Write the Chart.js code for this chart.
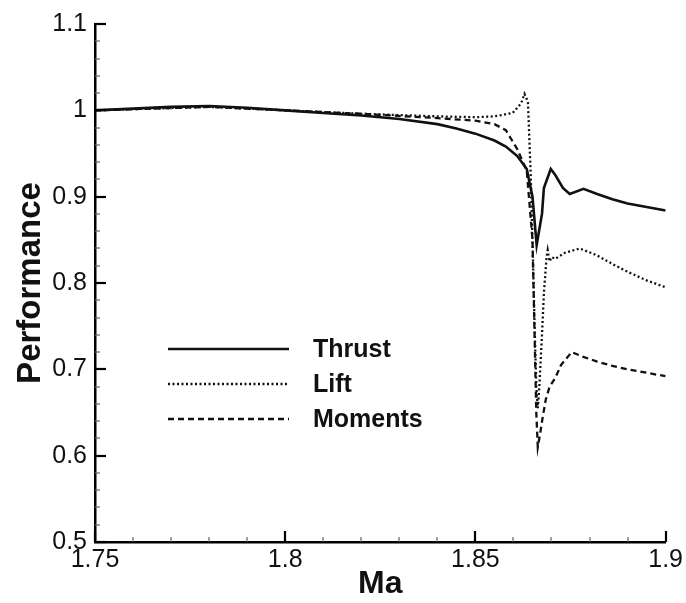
<!DOCTYPE html>
<html>
<head>
<meta charset="utf-8">
<script src="https://cdn.jsdelivr.net/npm/chart.js@4.4.1/dist/chart.umd.min.js"></script>
<style>
  html, body { margin: 0; padding: 0; background: #fff; }
  #wrap { width: 686px; height: 603px; }
</style>
</head>
<body>
<div id="wrap"><canvas id="perfChart" width="686" height="603"></canvas></div>
<script>
// Ma values and series
const thrustMa = [1.75, 1.76, 1.77, 1.78, 1.79, 1.80, 1.81, 1.82, 1.83, 1.84, 1.845, 1.85, 1.855, 1.858, 1.861, 1.8635, 1.865, 1.8661, 1.8675, 1.868, 1.8698, 1.871, 1.873, 1.8748, 1.8784, 1.882, 1.886, 1.89, 1.895, 1.9];
const thrustVal = [1.0, 1.002, 1.004, 1.005, 1.003, 1.0, 0.997, 0.994, 0.99, 0.984, 0.979, 0.973, 0.965, 0.958, 0.947, 0.932, 0.90, 0.844, 0.88, 0.91, 0.932, 0.925, 0.91, 0.903, 0.909, 0.903, 0.897, 0.892, 0.888, 0.884];

const liftMa = [1.75, 1.78, 1.80, 1.82, 1.84, 1.85, 1.855, 1.8598, 1.862, 1.8629, 1.8638, 1.8645, 1.865, 1.8655, 1.866, 1.8664, 1.8668, 1.8675, 1.868, 1.8687, 1.869, 1.8695, 1.870, 1.871, 1.8735, 1.8774, 1.882, 1.886, 1.89, 1.895, 1.9];
const liftVal = [1.0, 1.004, 1.0, 0.996, 0.993, 0.992, 0.993, 0.997, 1.008, 1.019, 1.01, 0.93, 0.85, 0.76, 0.68, 0.655, 0.68, 0.74, 0.788, 0.83, 0.838, 0.825, 0.83, 0.828, 0.835, 0.840, 0.832, 0.822, 0.813, 0.803, 0.795];

const momentsMa = [1.75, 1.78, 1.80, 1.82, 1.84, 1.85, 1.855, 1.858, 1.861, 1.8635, 1.865, 1.8655, 1.866, 1.8664, 1.867, 1.8677, 1.8685, 1.8695, 1.871, 1.8725, 1.8753, 1.878, 1.882, 1.886, 1.89, 1.895, 1.9];
const momentsVal = [1.0, 1.004, 1.0, 0.996, 0.991, 0.988, 0.984, 0.977, 0.955, 0.93, 0.85, 0.75, 0.65, 0.61, 0.625, 0.645, 0.665, 0.68, 0.69, 0.705, 0.72, 0.715, 0.709, 0.704, 0.700, 0.696, 0.692];

const seriesNames = ['Thrust', 'Lift', 'Moments'];
const xTickValues = [1.75, 1.8, 1.85, 1.9];
const xTickLabels = ['1.75', '1.8', '1.85', '1.9'];
const yTickValues = [0.5, 0.6, 0.7, 0.8, 0.9, 1.0, 1.1];
const yTickLabels = ['0.5', '0.6', '0.7', '0.8', '0.9', '1', '1.1'];

const FONT = '"Liberation Sans", Arial, sans-serif';

function toPoints(xs, ys) {
  return xs.map((x, i) => ({ x: x, y: ys[i] }));
}

// inward major/minor ticks like the original plot
const innerTicks = {
  id: 'innerTicks',
  afterDraw(chart) {
    const ctx = chart.ctx;
    const xs = chart.scales.x;
    const ys = chart.scales.y;
    const area = chart.chartArea;
    ctx.save();
    for (let i = 0; i <= 30; i++) {
      const v = 0.5 + i * 0.02;
      const py = Math.round(ys.getPixelForValue(v));
      const major = i % 5 === 0;
      ctx.strokeStyle = major ? '#000' : '#666';
      ctx.lineWidth = major ? 2.2 : 1.2;
      ctx.beginPath();
      ctx.moveTo(area.left, py);
      ctx.lineTo(area.left + (major ? 11 : 5), py);
      ctx.stroke();
    }
    for (let i = 0; i <= 15; i++) {
      const v = 1.75 + i * 0.01;
      const px = Math.round(xs.getPixelForValue(v));
      const major = i % 5 === 0;
      ctx.strokeStyle = major ? '#000' : '#666';
      ctx.lineWidth = major ? 2.2 : 1.2;
      ctx.beginPath();
      ctx.moveTo(px, area.bottom);
      ctx.lineTo(px, area.bottom - (major ? 11 : 5));
      ctx.stroke();
    }
    ctx.restore();
  }
};

// legend drawn inside the plot, lines on the left and names on the right
const innerLegend = {
  id: 'innerLegend',
  afterDraw(chart) {
    const ctx = chart.ctx;
    const rows = [349, 384, 419];
    ctx.save();
    ctx.font = 'bold 25px ' + FONT;
    ctx.textBaseline = 'middle';
    ctx.fillStyle = '#111';
    chart.data.datasets.forEach((ds, i) => {
      ctx.strokeStyle = ds.borderColor;
      ctx.lineWidth = ds.borderWidth;
      ctx.setLineDash(ds.borderDash || []);
      ctx.beginPath();
      ctx.moveTo(168, rows[i]);
      ctx.lineTo(289, rows[i]);
      ctx.stroke();
      ctx.setLineDash([]);
      ctx.fillText(ds.label, 313, rows[i] + 1);
    });
    ctx.restore();
  }
};

const ctx = document.getElementById('perfChart').getContext('2d');
new Chart(ctx, {
  type: 'line',
  data: {
    datasets: [
      {
        label: seriesNames[0],
        data: toPoints(thrustMa, thrustVal),
        borderColor: '#111',
        borderWidth: 2.6,
        pointRadius: 0,
        tension: 0
      },
      {
        label: seriesNames[1],
        data: toPoints(liftMa, liftVal),
        borderColor: '#111',
        borderWidth: 2.3,
        borderDash: [2, 2.5],
        pointRadius: 0,
        tension: 0
      },
      {
        label: seriesNames[2],
        data: toPoints(momentsMa, momentsVal),
        borderColor: '#111',
        borderWidth: 2.3,
        borderDash: [6, 4],
        pointRadius: 0,
        tension: 0
      }
    ]
  },
  options: {
    responsive: false,
    animation: false,
    layout: { padding: { top: 24, right: 20, left: 11, bottom: 0 } },
    plugins: {
      legend: { display: false },
      tooltip: { enabled: false }
    },
    scales: {
      x: {
        type: 'linear',
        min: 1.75,
        max: 1.9,
        afterBuildTicks: scale => { scale.ticks = xTickValues.map(v => ({ value: v })); },
        afterFit: scale => { scale.height = 61; },
        grid: { display: false, drawTicks: false },
        border: { display: true, color: '#000', width: 2.5 },
        ticks: {
          color: '#111',
          padding: 3,
          maxRotation: 0,
          font: { family: FONT, size: 25 },
          callback: (v, i) => xTickLabels[i]
        },
        title: {
          display: true,
          text: 'Ma',
          color: '#111',
          padding: { top: 0, bottom: 0 },
          font: { family: FONT, size: 32, weight: 'bold' }
        }
      },
      y: {
        type: 'linear',
        min: 0.5,
        max: 1.1,
        afterBuildTicks: scale => { scale.ticks = yTickValues.map(v => ({ value: v })); },
        afterFit: scale => { scale.width = 84; },
        grid: { display: false, drawTicks: false },
        border: { display: true, color: '#000', width: 2.5 },
        ticks: {
          color: '#111',
          padding: 8,
          font: { family: FONT, size: 25 },
          callback: (v, i) => yTickLabels[i]
        },
        title: {
          display: true,
          text: 'Performance',
          color: '#111',
          padding: { top: 0, bottom: 0 },
          font: { family: FONT, size: 33, weight: 'bold' }
        }
      }
    }
  },
  plugins: [innerTicks, innerLegend]
});
</script>
</body>
</html>
